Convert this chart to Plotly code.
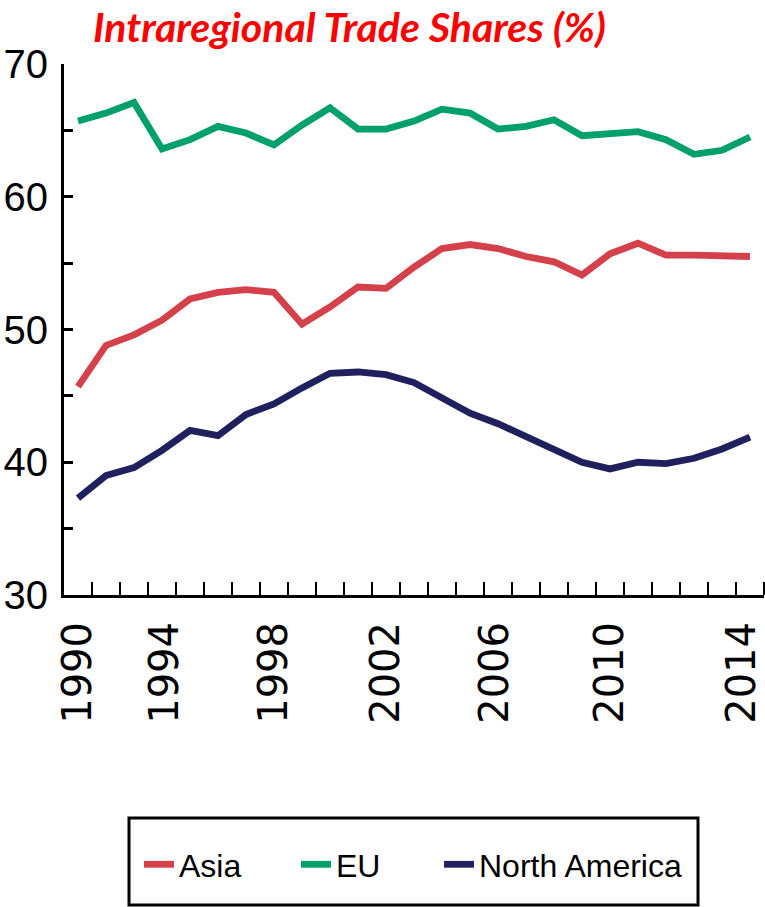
import plotly.graph_objects as go

# ---- data ----
years = list(range(1990, 2015))
asia = [45.7, 48.8, 49.6, 50.7, 52.3, 52.8, 53.0, 52.8, 50.4, 51.7, 53.2, 53.1, 54.7,
        56.1, 56.4, 56.1, 55.5, 55.1, 54.1, 55.7, 56.5, 55.6, 55.6, 55.6, 55.5]
eu = [65.7, 66.3, 67.1, 63.6, 64.3, 65.3, 64.8, 63.9, 65.4, 66.7, 65.1, 65.1, 65.7,
      66.6, 66.3, 65.1, 65.3, 65.8, 64.6, 64.7, 64.9, 64.3, 63.2, 63.5, 64.5]
north_america = [37.3, 39.0, 39.6, 40.9, 42.4, 42.0, 43.6, 44.4, 45.6, 46.7, 46.8, 46.6, 46.0,
                 44.9, 43.7, 42.9, 41.9, 41.0, 40.0, 39.5, 40.0, 39.9, 40.3, 41.0, 41.9]
series_names = ["Asia", "EU", "North America"]
x_tick_labels = ["1990", "1994", "1998", "2002", "2006", "2010", "2014"]
y_tick_labels = ["30", "40", "50", "60", "70"]

# label positions as drawn in the reference (layout, not data)
x_label_pos = [1990, 1993.1, 1997, 2001, 2004.9, 2009, 2013.7]

W, H = 765, 907
ML, MR, MT, MB = 64, 1, 64, 312
PW, PH = W - ML - MR, H - MT - MB

def px_to_paper_x(px):
    return (px - ML) / PW

def px_to_paper_y(py):
    return (H - MB - py) / PH

sans = "Liberation Sans, Arial, sans-serif"
colors = ["#D5414B", "#00A06A", "#20205E"]
legend_ids = ["legend", "legend2", "legend3"]
legend_left_px = [139, 296, 439]
legend_top_px = 837

fig = go.Figure()
for name, vals, col, lid in zip(series_names, [asia, eu, north_america], colors, legend_ids):
    fig.add_trace(go.Scatter(x=years, y=vals, mode="lines", name=name, legend=lid,
                             line=dict(color=col, width=6.8)))

legend_style = dict(orientation="h", xref="container", yref="container",
                    xanchor="left", yanchor="top", y=1 - legend_top_px / H,
                    font=dict(family=sans, size=32, color="black"),
                    bgcolor="rgba(0,0,0,0)", borderwidth=0)

fig.update_layout(
    width=W, height=H,
    margin=dict(l=ML, r=MR, t=MT, b=MB, autoexpand=False),
    paper_bgcolor="white", plot_bgcolor="white",
    title=dict(text="Intraregional Trade Shares (%)",
               font=dict(family="Lato, Open Sans, sans-serif", size=41, color="#FF0000",
                         weight="bold", style="italic"),
               xref="container", x=349.5 / W, xanchor="center",
               yref="container", y=1 - 28 / H, yanchor="middle"),
    showlegend=True,
    legend=dict(x=legend_left_px[0] / W, **legend_style),
    legend2=dict(x=legend_left_px[1] / W, **legend_style),
    legend3=dict(x=legend_left_px[2] / W, **legend_style),
)

fig.add_shape(type="rect", xref="paper", yref="paper",
              x0=px_to_paper_x(129), x1=px_to_paper_x(698),
              y0=px_to_paper_y(818), y1=px_to_paper_y(905),
              line=dict(color="black", width=3), fillcolor="rgba(0,0,0,0)")

fig.update_xaxes(
    range=[1989.5, 2014.5], automargin=False,
    showgrid=False, zeroline=False,
    showline=True, linecolor="black", linewidth=3,
    tickvals=x_label_pos, ticktext=x_tick_labels,
    ticks="", tickangle=-90, ticklabeloverflow="allow",
    tickfont=dict(family="DejaVu Sans, sans-serif", size=40, color="black"),
    ticklabelstandoff=8,
    minor=dict(tickvals=[y + 0.5 for y in years], ticks="inside", ticklen=13,
               tickwidth=2, tickcolor="black"),
)
fig.update_yaxes(
    range=[30, 70], automargin=False,
    showgrid=False, zeroline=False,
    showline=True, linecolor="black", linewidth=3,
    tickvals=[30, 40, 50, 60, 70], ticktext=y_tick_labels,
    ticks="inside", ticklen=9, tickwidth=3, tickcolor="black",
    tickfont=dict(family=sans, size=40, color="black"),
    ticklabelstandoff=5, ticklabeloverflow="allow",
    minor=dict(tickvals=[35, 45, 55, 65], ticks="inside", ticklen=9,
               tickwidth=3, tickcolor="black"),
)

fig.write_html("out.html",
               config={"displayModeBar": False, "staticPlot": True},
               post_script="document.body.style.margin='0px';document.body.style.overflow='hidden';")
